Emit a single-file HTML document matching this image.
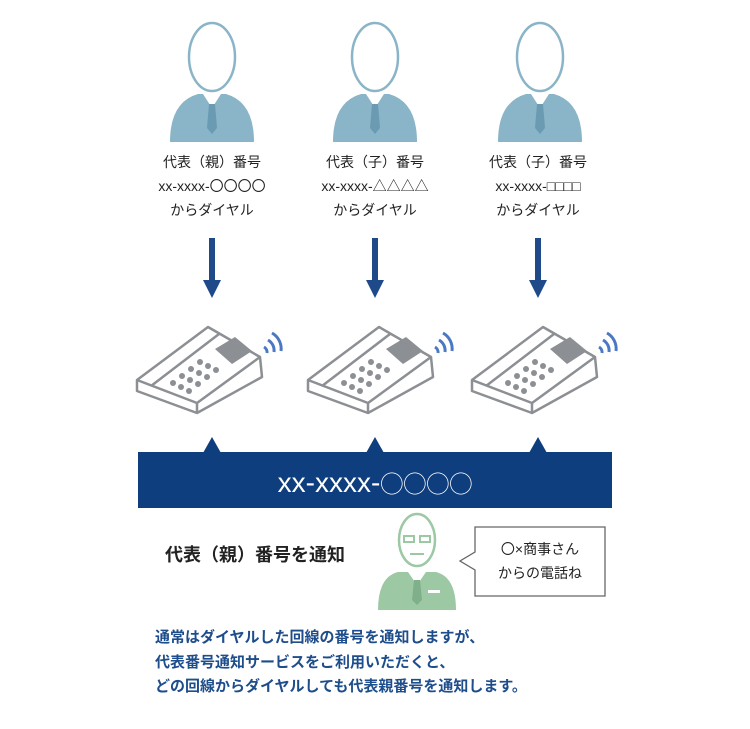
<!DOCTYPE html>
<html><head><meta charset="utf-8"><style>
body{margin:0;background:#fff;width:750px;height:729px;overflow:hidden;position:relative;font-family:"Liberation Sans","Noto Sans CJK JP",sans-serif}
.t{position:absolute;text-align:center;color:#222;font-size:14px;line-height:24px;width:160px}
</style></head><body>
<svg width="750" height="729" style="position:absolute;left:0;top:0">
<defs>
<g id="man">
<path d="M-42,118 Q-42,78 -14,70 L14,70 Q42,78 42,118 Z" fill="#8ab4c8"/>
<path d="M-9,70 L0,84 L9,70 Z" fill="#fff"/>
<path d="M-3,80 L3,80 L5,104 L0,110 L-5,104 Z" fill="#6b9bb2"/>
<ellipse cx="0" cy="33" rx="23" ry="34" fill="#fff" stroke="#8ab4c8" stroke-width="2.5"/>
</g>
<g id="phone" fill="none" stroke="#8c8f93" stroke-width="2.5" stroke-linejoin="round">
<path d="M0,55 L71,2 L123,32 L125,52 L60,88 L0,66 Z" fill="#fff"/>
<path d="M0,55 L60,78 L123,32"/>
<path d="M60,78 L60,88"/>
<path d="M14,61 L82,9"/>
<path d="M78,24 L98,12 L115,26 L95,39 Z" fill="#8c8f93" stroke="none"/>
<g fill="#8c8f93" stroke="none">
<circle cx="36" cy="58" r="3"/><circle cx="44" cy="62" r="3"/><circle cx="52" cy="66" r="3"/>
<circle cx="45" cy="51" r="3"/><circle cx="53" cy="55" r="3"/><circle cx="61" cy="59" r="3"/>
<circle cx="54" cy="44" r="3"/><circle cx="62" cy="48" r="3"/><circle cx="70" cy="52" r="3"/>
<circle cx="63" cy="37" r="3"/><circle cx="71" cy="41" r="3"/><circle cx="79" cy="45" r="3"/>
</g>
<g stroke="#4a78c2" stroke-width="3"><path d="M130,28 a6,6 0 0 0 -3,-6"/><path d="M137,27 a12,12 0 0 0 -6,-12"/><path d="M144,26 a18,18 0 0 0 -9,-18"/></g>
</g>
</defs>
<use href="#man" x="212" y="24"/>
<use href="#man" x="375" y="24"/>
<use href="#man" x="540" y="24"/>
<g fill="#1e4a8a">
<rect x="209" y="238" width="6" height="45"/><path d="M203,280 L221,280 L212,298 Z"/>
<rect x="372" y="238" width="6" height="45"/><path d="M366,280 L384,280 L375,298 Z"/>
<rect x="535" y="238" width="6" height="45"/><path d="M529,280 L547,280 L538,298 Z"/>
</g>
<use href="#phone" x="137" y="325"/>
<use href="#phone" x="308" y="325"/>
<use href="#phone" x="472" y="325"/>
<g fill="#0f3e7e">
<rect x="138" y="452" width="474" height="56"/>
<path d="M203,453 L212,437 L221,453 Z"/><path d="M366,453 L375,437 L384,453 Z"/><path d="M529,453 L538,437 L547,453 Z"/>
</g>
<text x="375" y="492" fill="#fff" font-size="28" text-anchor="middle" font-family="Liberation Sans, Noto Sans CJK JP, sans-serif">xx-xxxx-<tspan font-size="23">◯◯◯◯</tspan></text>
<g>
<path d="M378,610 Q378,577 398,572 L436,572 Q456,577 456,610 Z" fill="#9cc8a4"/>
<path d="M408,572 L417,585 L426,572 Z" fill="#fff"/>
<path d="M414,580 L420,580 L422,600 L417,605 L412,600 Z" fill="#7fb08a"/>
<rect x="428" y="590" width="12" height="3" fill="#fff"/>
<ellipse cx="417" cy="540" rx="18" ry="26" fill="#fff" stroke="#9cc8a4" stroke-width="2.5"/>
<rect x="404" y="536" width="10" height="6" fill="none" stroke="#9cc8a4" stroke-width="2"/>
<rect x="420" y="536" width="10" height="6" fill="none" stroke="#9cc8a4" stroke-width="2"/>
<path d="M410,554 L424,554" stroke="#9cc8a4" stroke-width="2"/>
</g>
<path d="M475,527 L605,527 L605,596 L475,596 L475,570 L460,561 L475,552 Z" fill="#fff" stroke="#666" stroke-width="1.3"/>
</svg>
<div class="t" style="left:132px;top:150px">代表（親）番号<br>xx-xxxx-〇〇〇〇<br>からダイヤル</div>
<div class="t" style="left:295px;top:150px">代表（子）番号<br>xx-xxxx-△△△△<br>からダイヤル</div>
<div class="t" style="left:458px;top:150px">代表（子）番号<br>xx-xxxx-□□□□<br>からダイヤル</div>
<div style="position:absolute;left:165px;top:541px;font-size:18px;font-weight:bold;color:#222">代表（親）番号を通知</div>
<div style="position:absolute;left:475px;top:537px;width:130px;text-align:center;font-size:14px;line-height:24px;color:#222">〇×商事さん<br>からの電話ね</div>
<div style="position:absolute;left:155px;top:626px;font-size:15px;line-height:24.5px;font-weight:bold;color:#1e4d8c">通常はダイヤルした回線の番号を通知しますが、<br>代表番号通知サービスをご利用いただくと、<br>どの回線からダイヤルしても代表親番号を通知します。</div>
</body></html>
